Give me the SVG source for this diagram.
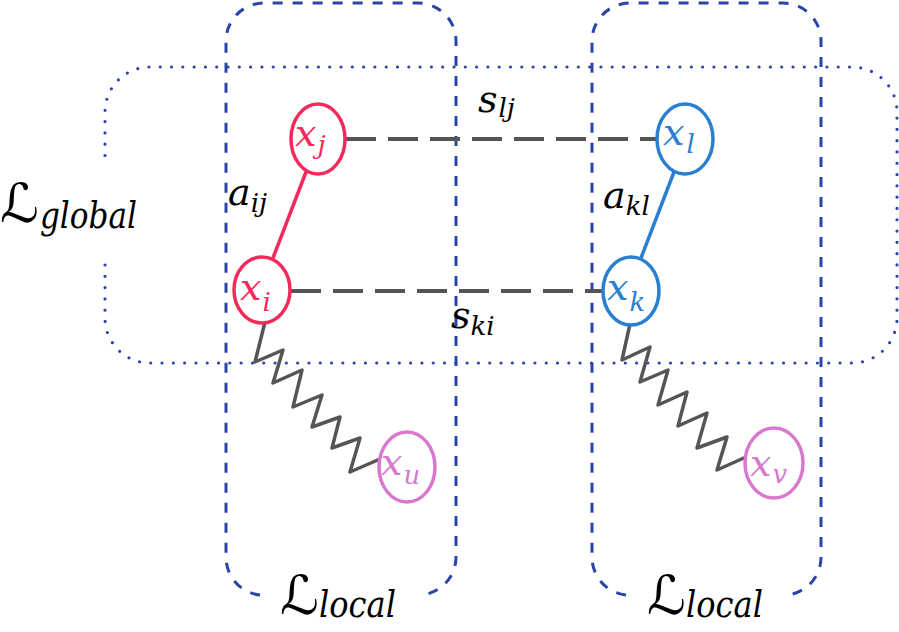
<svg xmlns="http://www.w3.org/2000/svg" width="899" height="632" viewBox="0 0 899 632">
<style>
.bg{fill:#ffffff}
.local{fill:none;stroke:#2b44a8;stroke-width:3;stroke-dasharray:10 10}
.global{fill:none;stroke:#2b44a8;stroke-width:3.2;stroke-dasharray:0 11.3;stroke-linecap:round}
.nr{fill:#ffffff;stroke:#f52a5a;stroke-width:3.5}
.nb{fill:#ffffff;stroke:#2a7fd0;stroke-width:3.5}
.np{fill:#ffffff;stroke:#d878cf;stroke-width:3.5}
.tr{fill:#f52a5a}
.tb{fill:#2a7fd0}
.tp{fill:#d878cf}
.m{font-family:"DejaVu Serif","Liberation Serif",serif;font-style:italic}
.big{font-size:38px}
.sub{font-size:26px}
.lbl{fill:#000000}
.scr{font-family:"DejaVu Serif","DejaVu Sans",serif;font-style:normal;font-size:54px;fill:#000}
.er{stroke:#f52a5a;stroke-width:3.5;fill:none}
.eb{stroke:#2a7fd0;stroke-width:3.5;fill:none}
.dash{stroke:#555555;stroke-width:4;stroke-dasharray:30 12;fill:none}
.wave{stroke:#555555;stroke-width:3.5;fill:none;stroke-linejoin:round;stroke-linecap:round}
</style>
<rect class="bg" x="0" y="0" width="899" height="632"/>

<g id="frames">
  <path id="global-frame" class="global" d="M105,265 L105,318 A45,45 0 0 0 150,363 L852,363 A45,45 0 0 0 897,318 L897,112 A45,45 0 0 0 852,67 L150,67 A45,45 0 0 0 105,112 L105,163"/>
  <path id="local-frame-left" class="local" d="M260,595 A38,38 0 0 1 226,557 L226,41 A38,38 0 0 1 264,3 L418,3 A38,38 0 0 1 456,41 L456,557 A38,38 0 0 1 420,595"/>
  <path id="local-frame-right" class="local" d="M626,595 A38,38 0 0 1 592,557 L592,41 A38,38 0 0 1 630,3 L783,3 A38,38 0 0 1 821,41 L821,557 A38,38 0 0 1 787,595"/>
</g>

<g id="connectors">
  <line class="er" x1="306" y1="172" x2="273" y2="258"/>
  <line class="eb" x1="674" y1="172" x2="641" y2="258"/>
  <line class="dash" x1="346" y1="139" x2="657" y2="139"/>
  <line class="dash" x1="291" y1="291" x2="603" y2="291"/>
  <polyline class="wave" points="265,322 255,362 283,350 273,383 302,370 293,407 322,395 312,427 340,417 332,448 360,438 350,472 380,459"/>
  <polyline class="wave" points="630,324 622,360 650,347 640,382 668,370 658,405 687,392 678,426 707,413 697,448 727,437 717,470 746,457"/>
</g>

<g id="node-xj">
  <ellipse class="nr" cx="318" cy="139" rx="27" ry="35"/>
  <text class="m tr" x="295" y="146"><tspan class="big">x</tspan><tspan class="sub" dx="1" dy="8">j</tspan></text>
</g>
<g id="node-xi">
  <ellipse class="nr" cx="262" cy="290" rx="28" ry="33"/>
  <text class="m tr" x="240" y="300"><tspan class="big">x</tspan><tspan class="sub" dx="1" dy="11">i</tspan></text>
</g>
<g id="node-xl">
  <ellipse class="nb" cx="685" cy="139" rx="28" ry="35"/>
  <text class="m tb" x="663" y="145"><tspan class="big">x</tspan><tspan class="sub" dx="2" dy="8">l</tspan></text>
</g>
<g id="node-xk">
  <ellipse class="nb" cx="631" cy="291" rx="28" ry="34"/>
  <text class="m tb" x="607" y="300"><tspan class="big">x</tspan><tspan class="sub" dx="1" dy="11">k</tspan></text>
</g>
<g id="node-xu">
  <ellipse class="np" cx="407" cy="467" rx="28" ry="35"/>
  <text class="m tp" x="381" y="475"><tspan class="big">x</tspan><tspan class="sub" dx="1" dy="9">u</tspan></text>
</g>
<g id="node-xv">
  <ellipse class="np" cx="774" cy="463" rx="29" ry="35"/>
  <text class="m tp" x="750" y="476"><tspan class="big">x</tspan><tspan class="sub" dx="1" dy="7">v</tspan></text>
</g>

<g id="labels">
  <text class="m lbl" x="228" y="205"><tspan class="big">a</tspan><tspan class="sub" dx="0" dy="7">ij</tspan></text>
  <text class="m lbl" x="603" y="208"><tspan class="big">a</tspan><tspan class="sub" dx="0" dy="7">kl</tspan></text>
  <text class="m lbl" x="478" y="112"><tspan class="big">s</tspan><tspan class="sub" dx="1" dy="5">lj</tspan></text>
  <text class="m lbl" x="451" y="328"><tspan class="big">s</tspan><tspan class="sub" dx="0" dy="7">ki</tspan></text>
  <text x="0" y="222"><tspan class="scr">ℒ</tspan><tspan class="m big" dx="1" dy="6" textLength="97" lengthAdjust="spacingAndGlyphs">global</tspan></text>
  <text x="280" y="614"><tspan class="scr">ℒ</tspan><tspan class="m big" dx="0" dy="3" textLength="77" lengthAdjust="spacingAndGlyphs">local</tspan></text>
  <text x="647" y="614"><tspan class="scr">ℒ</tspan><tspan class="m big" dx="0" dy="3" textLength="77" lengthAdjust="spacingAndGlyphs">local</tspan></text>
</g>
</svg>
